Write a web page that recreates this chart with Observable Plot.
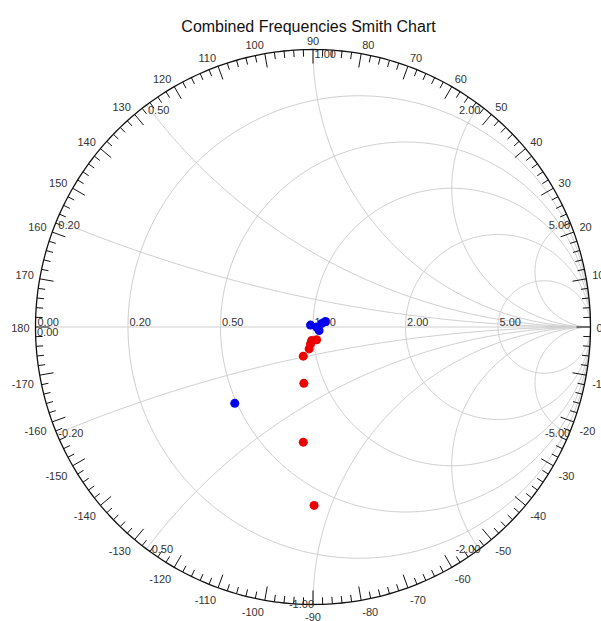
<!DOCTYPE html>
<html><head><meta charset="utf-8">
<script src="https://cdn.jsdelivr.net/npm/d3@7"></script>
<script src="https://cdn.jsdelivr.net/npm/@observablehq/plot@0.6"></script>
<style>body{margin:0;background:#fff;overflow:hidden}</style>
</head><body><div id="chart"></div>
<script>
// ---------- data ----------
const chartTitle = "Combined Frequencies Smith Chart";
const resistanceValues = [0, 0.2, 0.5, 1, 2, 5];
const reactanceValues = [0.2, 0.5, 1, 2, 5];
const reactanceLabelValues = [0, 0.2, 0.5, 1, 2, 5, -0.2, -0.5, -1, -2, -5];
const angleLabelValues = [180, 170, 160, 150, 140, 130, 120, 110, 100, 90, 80, 70, 60, 50, 40, 30, 20, 10, 0,
  -10, -20, -30, -40, -50, -60, -70, -80, -90, -100, -110, -120, -130, -140, -150, -160, -170];
const angleTickStep = 2;
// reflection coefficient (real, imaginary) of each measured point
const blueRe = [-0.009, 0.013, 0.022, 0.032, 0.045, -0.282];
const blueIm = [0.007, 0.000, -0.013, 0.013, 0.020, -0.275];
const redRe = [-0.005, 0.013, -0.009, -0.014, -0.035, -0.033, -0.035, 0.004];
const redIm = [-0.049, -0.046, -0.061, -0.079, -0.105, -0.203, -0.415, -0.643];

// ---------- layout ----------
const W = 601, H = 621;
const mL = 35, mR = 11, mT = 49, mB = 17;
const RPX = (W - mL - mR) / 2; // pixels per unit of |Gamma|
const px = v => v / RPX;
const rad = d => d * Math.PI / 180;
const gridColor = "#cfcfcf";
const textColor = "#333";

// resistance circles
const resCircles = [];
for (const r of resistanceValues) {
  if (r === 0) continue;
  for (let t = 0; t <= 360; t += 1) {
    resCircles.push({r, x: r / (1 + r) + Math.cos(rad(t)) / (1 + r), y: Math.sin(rad(t)) / (1 + r)});
  }
}
const outer = d3.range(0, 361, 1).map(t => ({x: Math.cos(rad(t)), y: Math.sin(rad(t))}));

// reactance arcs
const reacArcs = [];
for (const xv0 of reactanceValues) for (const sgn of [1, -1]) {
  const a = xv0, cyp = 1 / a, rr = 1 / a;
  const Px = (a * a - 1) / (a * a + 1), Py = 2 * a / (a * a + 1);
  const a0 = -Math.PI / 2;
  let a1 = Math.atan2(Py - cyp, Px - 1);
  if (a1 > 0) a1 -= 2 * Math.PI;
  const n = 120;
  for (let i = 0; i <= n; i++) {
    const t = a0 + (a1 - a0) * i / n;
    reacArcs.push({k: sgn * xv0, x: 1 + rr * Math.cos(t), y: sgn * (cyp + rr * Math.sin(t))});
  }
}

// ticks
const ticks = [];
for (let a = -178; a <= 180; a += angleTickStep) {
  const len = a % 10 === 0 ? 14 : 7;
  const c = Math.cos(rad(a)), s = Math.sin(rad(a));
  ticks.push({x1: c, y1: s, x2: c * (1 - px(len)), y2: s * (1 - px(len))});
}

// angle labels
const eps = 1e-9;
const angleLabels = angleLabelValues.map(a => {
  const c = Math.cos(rad(a)), s = Math.sin(rad(a));
  let y;
  if (Math.abs(s) < eps) y = -px(1.5);
  else if (s > 0) y = s + px(2.5 + 5.5 * s);
  else y = s - px(8 + 4.5 * Math.abs(s));
  const anchor = Math.abs(c) < eps ? "middle" : (c > 0 ? "start" : "end");
  return {text: String(a), x: anchor === "middle" ? 0 : c * (1 + px(6)), y, anchor};
});

// reactance labels
const reacLabels = reactanceLabelValues.map(xv => {
  const Px = (xv * xv - 1) / (xv * xv + 1), Py = 2 * xv / (xv * xv + 1);
  let anchor;
  if (Px < -eps) anchor = "start";
  else if (Px > eps) anchor = "end";
  else anchor = xv > 0 ? "start" : "end";
  const y = xv >= 0 ? Py - px(5) : Py;
  const x = Px + (anchor === "start" ? px(1.5) : px(1));
  return {text: xv.toFixed(2), x, y, anchor};
});

// resistance labels
const resLabels = resistanceValues.map(r => ({text: r.toFixed(2), x: (r - 1) / (r + 1) + px(r === 0 ? 2 : 1.5), y: px(4.5)}));

const blue = blueRe.map((re, i) => ({re, im: blueIm[i]}));
const red = redRe.map((re, i) => ({re, im: redIm[i]}));

const textOpts = {fill: textColor, fontSize: 11};
const labelMarks = [];
for (const anc of ["start", "end", "middle"]) {
  labelMarks.push(Plot.text(angleLabels.filter(d => d.anchor === anc), {x: "x", y: "y", text: "text", textAnchor: anc, ...textOpts}));
  labelMarks.push(Plot.text(reacLabels.filter(d => d.anchor === anc), {x: "x", y: "y", text: "text", textAnchor: anc, ...textOpts}));
}

const chart = Plot.plot({
  width: W, height: H,
  marginLeft: mL, marginRight: mR, marginTop: mT, marginBottom: mB,
  x: {domain: [-1, 1], axis: null},
  y: {domain: [-1, 1], axis: null},
  style: {fontFamily: "'Liberation Sans', Arial, sans-serif", background: "#fff", overflow: "hidden"},
  marks: [
    Plot.line(resCircles, {x: "x", y: "y", z: "r", stroke: gridColor, strokeWidth: 1}),
    Plot.line(reacArcs, {x: "x", y: "y", z: "k", stroke: gridColor, strokeWidth: 1}),
    Plot.ruleY([0], {x1: -1, x2: 1, stroke: gridColor, strokeWidth: 1}),
    Plot.line(outer, {x: "x", y: "y", stroke: "#111", strokeWidth: 1.3}),
    Plot.link(ticks, {x1: "x1", y1: "y1", x2: "x2", y2: "y2", stroke: "#111", strokeWidth: 1}),
    Plot.text(resLabels, {x: "x", y: "y", text: "text", textAnchor: "start", ...textOpts}),
    ...labelMarks,
    Plot.dot(red, {x: "re", y: "im", r: 4.5, fill: "#ee0000", stroke: "none"}),
    Plot.dot(blue, {x: "re", y: "im", r: 4.5, fill: "#0000ee", stroke: "none"}),
    Plot.text([chartTitle], {frameAnchor: "top", dy: -29, dx: -4.5, fontSize: 16, fill: "#111"})
  ]
});
document.getElementById("chart").appendChild(chart);
</script>
</body></html>
